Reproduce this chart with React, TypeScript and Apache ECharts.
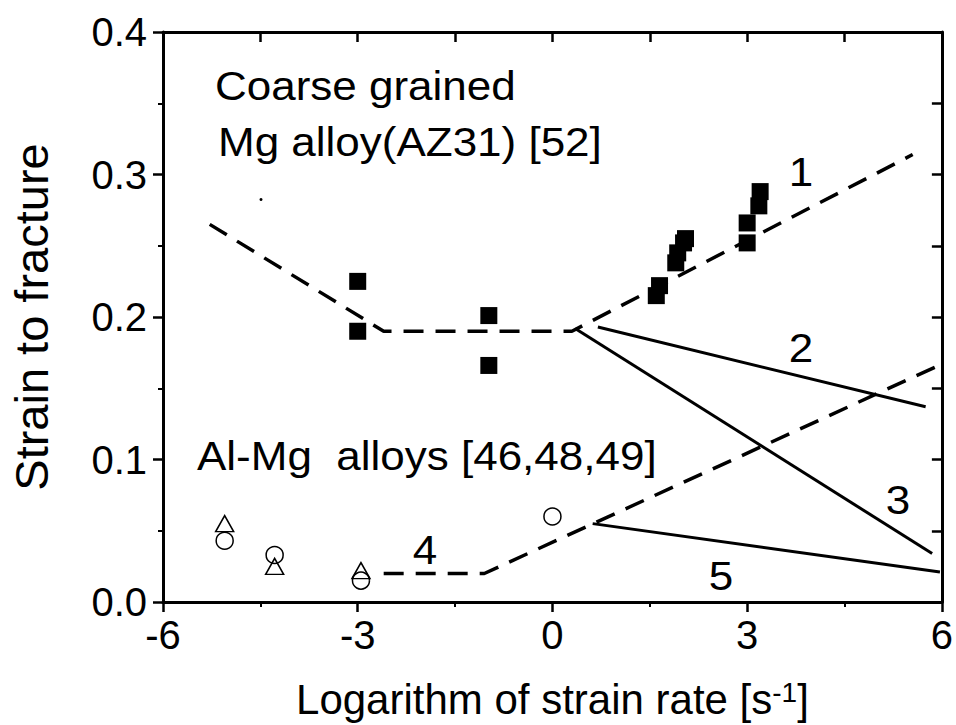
import React, { useEffect, useRef } from "react";
import * as echarts from "echarts";

// ---- data ----
const xTickValues = [-6, -3, 0, 3, 6];
const yTickValues = [0, 0.1, 0.2, 0.3, 0.4];

// Coarse grained Mg alloy AZ31 (filled squares)
const mgSquares: number[][] = [
  [-3.0, 0.225], [-3.0, 0.19],
  [-0.98, 0.201], [-0.98, 0.166],
  [1.6, 0.215], [1.65, 0.222], [1.9, 0.238], [1.93, 0.245], [2.02, 0.252], [2.05, 0.255],
  [3.0, 0.252], [3.0, 0.266], [3.18, 0.278], [3.2, 0.288],
];
// Al-Mg alloys (open circles / open triangles)
const alCircles: number[][] = [[-5.05, 0.043], [-4.28, 0.033], [-2.95, 0.015], [0.0, 0.06]];
const alTriangles: number[][] = [[-5.05, 0.055], [-4.28, 0.025], [-2.95, 0.022]];
const strayDot: number[][] = [[-4.49, 0.2825]];

// model curves
const curve1: number[][] = [[-5.28, 0.265], [-2.6, 0.19], [0.3, 0.19], [5.55, 0.314]];
const curve2: number[][] = [[0.7, 0.193], [5.75, 0.137]];
const curve3: number[][] = [[0.35, 0.192], [5.85, 0.034]];
const curve4: number[][] = [[-2.6, 0.02], [-1.05, 0.02], [6.0, 0.167]];
const curve5: number[][] = [[0.62, 0.055], [5.97, 0.021]];

const curveNames = ["1", "2", "3", "4", "5"];
const noteLines = ["Coarse grained", "Mg alloy(AZ31) [52]", "Al-Mg  alloys [46,48,49]"];

const FONT = "'Liberation Sans', Arial, sans-serif";

export default function App() {
  const ref = useRef<HTMLDivElement>(null);
  useEffect(() => {
    if (!ref.current) return;
    const chart = echarts.init(ref.current, null, { renderer: "svg" });
    const axisLineStyle = { color: "#000", width: 3 };
    const dashed = { color: "#000", width: 3.5, type: [20, 12] as any };
    const solid = { color: "#000", width: 3 };
    const lineSeries = (data: number[][], style: any) => ({
      type: "line",
      data,
      symbol: "none",
      lineStyle: style,
      silent: true,
      z: 2,
    });
    const txt = (text: string, x: number, y: number, align = "left") => ({
      type: "text",
      x,
      y,
      scaleX: 1.1,
      style: {
        text,
        x: 0,
        y: 0,
        font: `40px ${FONT}`,
        fill: "#000",
        textAlign: align,
        textVerticalAlign: "middle",
        align,
        verticalAlign: "middle",
      },
      z: 10,
    });
    const option: any = {
      animation: false,
      backgroundColor: "#fff",
      grid: { left: 162, right: 14, top: 32, bottom: 121, containLabel: false },
      xAxis: [
        {
          type: "value",
          position: "bottom",
          min: -6,
          max: 6,
          interval: 3,
          axisLine: { onZero: false, lineStyle: axisLineStyle },
          axisTick: { length: 10, lineStyle: { color: "#000", width: 2.5 } },
          minorTick: { show: true, splitNumber: 2, length: 5, lineStyle: { color: "#000", width: 2 } },
          splitLine: { show: false },
          axisLabel: {
            fontSize: 40,
            color: "#000",
            fontFamily: FONT,
            margin: 13,
            formatter: (v: number) => (xTickValues.includes(v) ? String(v) : ""),
          },
          name: "Logarithm of strain rate [s{sup|-1}]",
          nameLocation: "middle",
          nameGap: 76,
          nameTextStyle: {
            fontSize: 42,
            color: "#000",
            fontFamily: FONT,
            rich: { sup: { fontSize: 28, color: "#000", fontFamily: FONT, verticalAlign: "top" } },
          },
        },
        {
          type: "value",
          position: "top",
          min: -6,
          max: 6,
          interval: 1.5,
          axisLine: { onZero: false, lineStyle: axisLineStyle },
          axisTick: { inside: true, length: 10, lineStyle: { color: "#000", width: 2.5 } },
          axisLabel: { show: false },
          splitLine: { show: false },
        },
      ],
      yAxis: [
        {
          type: "value",
          position: "left",
          min: 0,
          max: 0.4,
          interval: 0.1,
          axisLine: { onZero: false, lineStyle: axisLineStyle },
          axisTick: { length: 10, lineStyle: { color: "#000", width: 2.5 } },
          minorTick: { show: true, splitNumber: 2, length: 5, lineStyle: { color: "#000", width: 2 } },
          splitLine: { show: false },
          axisLabel: {
            fontSize: 40,
            color: "#000",
            fontFamily: FONT,
            margin: 16,
            formatter: (v: number) =>
              yTickValues.some((t) => Math.abs(t - v) < 1e-9) ? v.toFixed(1) : "",
          },
          name: "Strain to fracture",
          nameLocation: "middle",
          nameGap: 108,
          nameTextStyle: { fontSize: 47, color: "#000", fontFamily: FONT },
        },
        {
          type: "value",
          position: "right",
          min: 0,
          max: 0.4,
          interval: 0.05,
          axisLine: { onZero: false, lineStyle: axisLineStyle },
          axisTick: { inside: true, length: 10, lineStyle: { color: "#000", width: 2.5 } },
          axisLabel: { show: false },
          splitLine: { show: false },
        },
      ],
      series: [
        lineSeries(curve1, dashed),
        lineSeries(curve2, solid),
        lineSeries(curve3, solid),
        lineSeries(curve4, dashed),
        lineSeries(curve5, solid),
        {
          type: "scatter",
          data: mgSquares,
          symbol: "rect",
          symbolSize: 17,
          itemStyle: { color: "#000", opacity: 1 },
          z: 3,
        },
        {
          type: "scatter",
          data: alCircles,
          symbol: "circle",
          symbolSize: 17,
          itemStyle: { color: "rgba(0,0,0,0)", borderColor: "#000", borderWidth: 1.5, opacity: 1 },
          z: 3,
        },
        {
          type: "scatter",
          data: alTriangles,
          symbol: "triangle",
          symbolSize: [18, 16],
          itemStyle: { color: "rgba(0,0,0,0)", borderColor: "#000", borderWidth: 1.5, opacity: 1 },
          z: 3,
        },
        {
          type: "scatter",
          data: strayDot,
          symbol: "circle",
          symbolSize: 3,
          itemStyle: { color: "#000", opacity: 1 },
          z: 3,
        },
      ],
      graphic: [
        txt(noteLines[0], 215, 86),
        txt(noteLines[1], 218, 142),
        txt(noteLines[2], 197, 456),
        txt(curveNames[0], 801, 172, "center"),
        txt(curveNames[1], 801, 348, "center"),
        txt(curveNames[2], 898, 500, "center"),
        txt(curveNames[3], 425, 550, "center"),
        txt(curveNames[4], 721, 576, "center"),
      ],
    };
    chart.setOption(option);
    return () => chart.dispose();
  }, []);
  return <div ref={ref} style={{ width: 956, height: 725, position: "absolute", left: 0, top: 0 }} />;
}
